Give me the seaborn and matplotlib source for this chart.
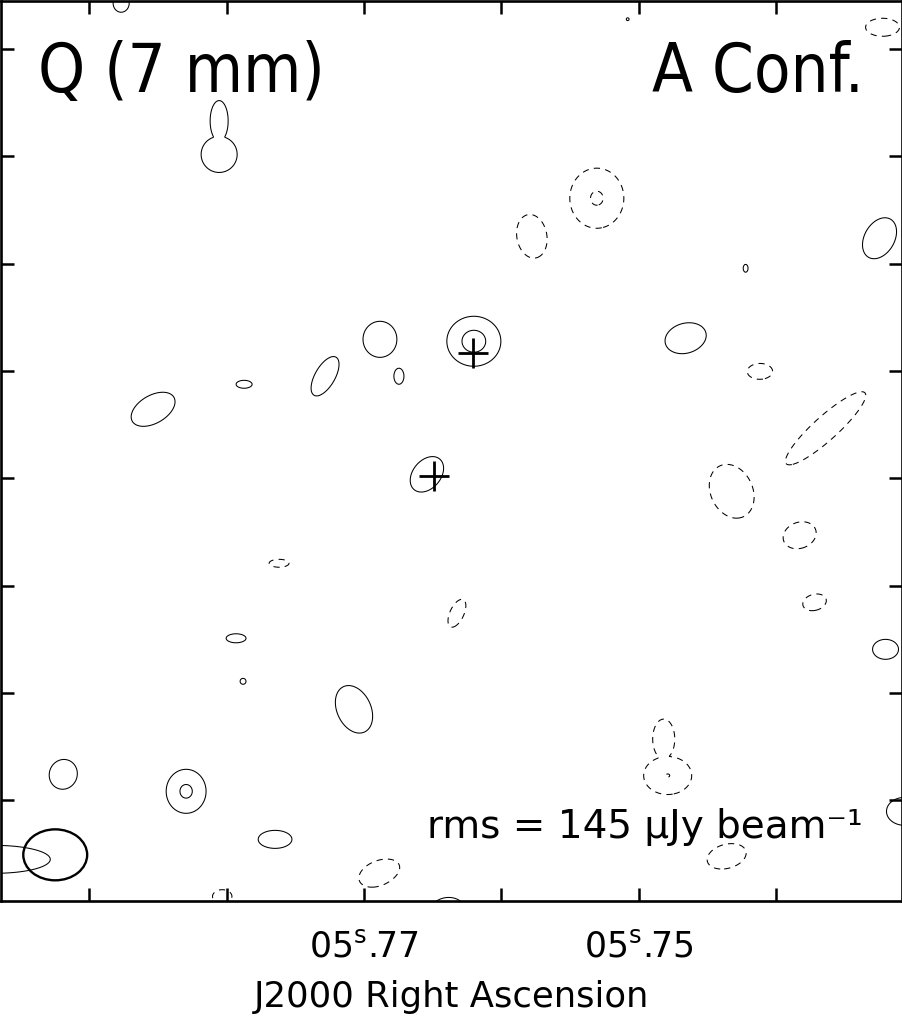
import numpy as np
import matplotlib
matplotlib.use("Agg")
import matplotlib.pyplot as plt
from matplotlib.patches import Ellipse
import seaborn as sns

# Components of the 7 mm map.
# offsets in mas from (05s.77, dec tick 0), east positive;
# size of the 3-sigma contour along / across the PA (mas), PA in deg (N through E),
# peak in units of the rms
src_x = [226.5, 135.1, 135.1, -14.9, -32.6, 36.3, 111.8, 196.7, -483.7, -217.2,
         -156.6, -356.0, -105.3, -246.0, -480.9, -102.5, -300.1, -369.1, -430.6, -58.7,
         79.2, 119.3, 112.8, -86.7, 9.3, 280.5, 165.9, 82.9, 343.9, -14.9,
         132.3, -77.4, -343.0, -406.4, -420.3, -486.5, -279.6, -283.3, -338.3, -504.2]
src_y = [442.7, 301.8, 333.0, 129.5, 95.1, 95.1, 87.6, 64.3, 420.3, 261.0,
         225.5, 195.7, 258.2, 427.8, 223.7, 127.7, 130.5, 99.7, 46.6, 3.7,
         -79.2, -149.1, -189.2, -125.8, -215.3, -275.9, -291.7, -336.5, -355.1, -368.1,
         -389.6, -401.7, -12.1, -53.1, -115.6, -159.4, -243.0, -277.0, -352.3, -310.4]
src_rmaj = [8.4, 16.8, 19.0, 16.8, 7.5, 20.5, 3.7, 22.4, 8.4, 28.0,
            20.5, 3.7, 1.9, 1.4, 20.5, 23.3, 19.6, 7.5, 49.4, 18.6,
            3.7, 4.2, 2.8, 14.0, 23.3, 14.0, 20.5, 8.4, 13.0, 20.5,
            6.5, 12.1, 26.1, 15.8, 11.2, 9.3, 18.6, 17.7, 18.6, 13.0]
src_rmin = [7.5, 16.8, 8.4, 15.8, 4.7, 9.3, 7.5, 13.0, 15.8, 25.2,
            14.0, 2.3, 1.9, 1.4, 14.0, 25.2, 14.0, 12.1, 11.2, 13.0,
            9.3, 9.3, 2.8, 6.5, 15.8, 13.0, 18.6, 15.8, 51.3, 12.1,
            9.3, 16.8, 19.6, 12.1, 7.5, 12.1, 10.3, 22.4, 11.2, 16.8]
src_pa = [0, 0, 0, 0, 0, -30, 0, -60, 0, 0,
          10, 0, 0, 0, -30, 0, -75, 0, -48, -40,
          0, 0, 0, -25, 25, -20, 0, 0, 0, -70,
          0, 0, 25, -70, -75, 0, 0, 0, -75, 0]
src_peak = [3.5, 3.8, 3.6, 4.0, 3.5, 4.0, 3.4, 4.0, -3.5, -5.15,
            -3.8, 3.2, 3.1, 3.1, 4.0, 5.65, 4.0, -3.5, -3.6, 4.0,
            -3.3, 3.4, 3.15, -3.5, 4.0, 3.8, 5.28, 3.8, 3.8, -3.6,
            -3.3, 3.8, -3.8, -3.6, -3.5, 3.6, -3.6, -5.02, -3.6, 3.6]

# continuum peaks (crosses)
peak_x = [-101.6, -65.2]
peak_y = [116.5, 1.9]

pos_levels = [3, 5]
neg_levels = [-5, -3]

ra_ticks = [5.79, 5.78, 5.77, 5.76, 5.75, 5.74]
ra_labels = ["", "", r"05$^{\rm s}$.77", "", r"05$^{\rm s}$.75", ""]
dec_ticks = [-300, -200, -100, 0, 100, 200, 300, 400]
mas_per_sec = 12823.0

beam_x, beam_y = 288.0, -350.9
beam_w, beam_h = 59.6, 47.5

# build map (in rms units)
gx, gy = np.meshgrid(np.linspace(-560, 400, 961), np.linspace(-460, 500, 961))
pos_map = np.zeros_like(gx)
neg_map = np.zeros_like(gx)
for x0, y0, a, b, pa, pk in zip(src_x, src_y, src_rmaj, src_rmin, src_pa, src_peak):
    k = np.sqrt(2 * np.log(abs(pk) / 3.0))
    sa, sb = a / k, b / k
    t = np.radians(pa)
    dx, dy = gx - x0, gy - y0
    u = dx * np.sin(t) + dy * np.cos(t)
    v = dx * np.cos(t) - dy * np.sin(t)
    g = pk * np.exp(-(u**2 / (2 * sa**2) + v**2 / (2 * sb**2)))
    if pk > 0:
        pos_map = np.maximum(pos_map, g)
    else:
        neg_map = np.minimum(neg_map, g)
img = pos_map + neg_map

sns.set_style("ticks")
plt.rcParams["font.family"] = ["DejaVu Sans"]
plt.rcParams["mathtext.fontset"] = "dejavusans"
plt.rcParams["text.color"] = "black"
plt.rcParams["axes.labelcolor"] = "black"

fig = plt.figure(figsize=(9.03, 10.26), dpi=100)
ax = fig.add_axes([0.00144, 0.12154, 0.99690, 0.87719])

ax.contour(gx, gy, img, levels=pos_levels, colors="black", linewidths=0.75,
           linestyles="solid")
ax.contour(gx, gy, img, levels=neg_levels, colors="black", linewidths=0.75,
           linestyles=[(0, (6, 5))])

sns.scatterplot(x=peak_x, y=peak_y, marker="+", s=440, color="black",
                linewidth=2.0, ax=ax, legend=False)

ax.add_patch(Ellipse((beam_x, beam_y), beam_w, beam_h, fill=False,
                     edgecolor="black", linewidth=1.7))

ax.set_xlim(338.3, -501.4)
ax.set_ylim(-394.2, 444.5)
ax.set_xticks([(r - 5.77) * mas_per_sec for r in ra_ticks])
ax.set_xticklabels(ra_labels)
ax.set_yticks(dec_ticks)
ax.set_yticklabels([])
ax.tick_params(direction="in", length=9.4, width=1.8, top=True, right=True,
               labelsize=25, pad=20, colors="black")
for sp in ax.spines.values():
    sp.set_linewidth(1.9)
    sp.set_color("black")
ax.set_xlabel("J2000 Right Ascension", fontsize=25.5, labelpad=12)

ax.text(0.0408, 0.8992, "Q (7 mm)", transform=ax.transAxes, fontsize=48,
        fontstretch="condensed", ha="left", va="baseline")
ax.text(0.9584, 0.8992, "A Conf.", transform=ax.transAxes, fontsize=48,
        fontstretch="condensed", ha="right", va="baseline")
ax.text(0.4729, 0.0703, "rms = 145 μJy beam⁻¹", transform=ax.transAxes,
        fontsize=28, ha="left", va="baseline")

fig.savefig("out.png", dpi=100)
